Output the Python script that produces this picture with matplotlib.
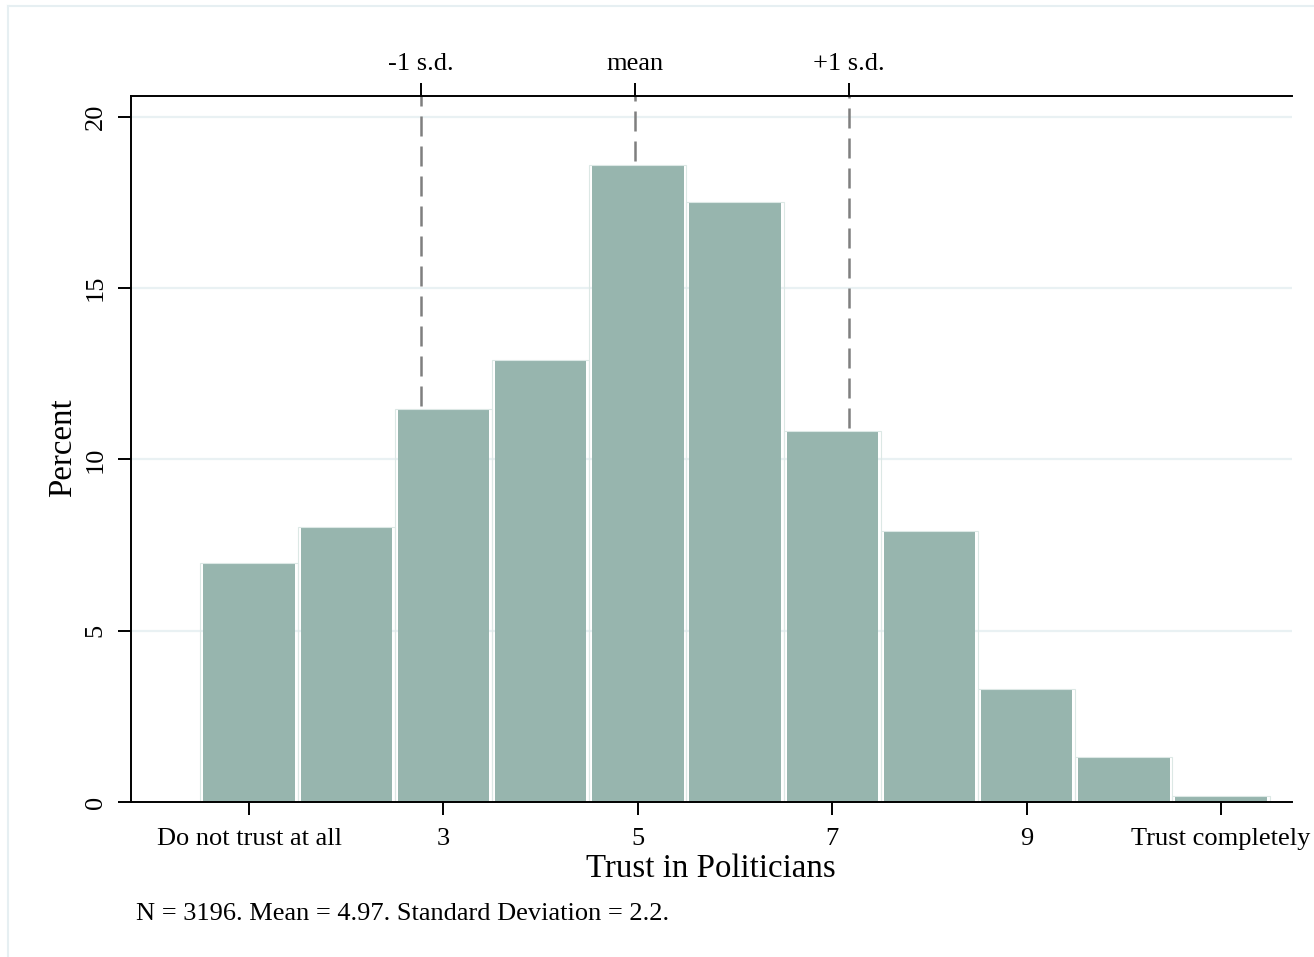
import matplotlib
matplotlib.use("Agg")
import matplotlib.pyplot as plt
import matplotlib.patches as mpatches
import numpy as np

# ---- data ----
categories = [1, 2, 3, 4, 5, 6, 7, 8, 9, 10, 11]
percent = [6.98, 8.03, 11.47, 12.91, 18.60, 17.53, 10.83, 7.91, 3.29, 1.32, 0.18]
x_tick_values = [1, 3, 5, 7, 9, 11]
x_tick_labels = ["Do not trust at all", "3", "5", "7", "9", "Trust completely"]
y_tick_values = [0, 5, 10, 15, 20]
mean_val = 4.97
sd_val = 2.2
n_obs = 3196
ref_labels = ["-1 s.d.", "mean", "+1 s.d."]
x_title = "Trust in Politicians"
y_title = "Percent"
note = "N = 3196. Mean = 4.97. Standard Deviation = 2.2."

plt.rcParams['font.family'] = ['Liberation Serif', 'DejaVu Serif']

W, H = 1314, 957
fig = plt.figure(figsize=(W / 100, H / 100), dpi=100)
fig.patch.set_facecolor("white")

ax = fig.add_axes([131 / W, 1 - 802 / H, (1292 - 131) / W, (802 - 96) / H])
ax.set_xlim(-0.214, 11.73)
ax.set_ylim(0, 20.61)

bar_color = "#97b5ae"
ax.bar(categories, percent, width=0.94, color=bar_color, linewidth=0, zorder=2)
ax.bar(categories, percent, width=1.0, facecolor="none", edgecolor="#dce8e5",
       linewidth=0.8, zorder=2)

# grid
for yv in y_tick_values[1:]:
    ax.axhline(yv, color="#e9f1f3", lw=1.6, zorder=0)

# reference lines
refs = [mean_val - sd_val, mean_val, mean_val + sd_val]
for r in refs:
    idx = int(round(r)) - 1
    top_bar = percent[idx]
    ax.plot([r, r], [top_bar + 0.1, 20.61], color="#7f7f7f", lw=1.8,
            linestyle=(0, (8, 4)), zorder=3, solid_capstyle="butt",
            dash_capstyle="butt")

for s in ["right", "top"]:
    ax.spines[s].set_visible(False)
for s in ["left", "bottom"]:
    ax.spines[s].set_linewidth(1.4)

ax.set_xticks(x_tick_values)
ax.set_xticklabels(x_tick_labels, fontsize=19)
ax.set_yticks(y_tick_values)
ax.set_yticklabels([str(v) for v in y_tick_values], fontsize=19, rotation=90,
                   va="center")
ax.tick_params(axis="both", direction="out", length=9.4, width=1.4, color="black")
ax.tick_params(axis="x", pad=9.5)
ax.tick_params(axis="y", pad=8)

# top axis
ax2 = ax.twiny()
ax2.set_xlim(ax.get_xlim())
ax2.set_xticks(refs)
ax2.set_xticklabels(ref_labels, fontsize=19)
ax2.tick_params(axis="x", direction="out", length=9.4, width=1.4, pad=6)
for s in ["right", "bottom", "left"]:
    ax2.spines[s].set_visible(False)
ax2.spines["top"].set_linewidth(1.4)

# titles
fig.text(711 / W, 1 - 877 / H, x_title, fontsize=23.7, ha="center", va="baseline")
fig.text(62.5 / W, 1 - 448 / H, y_title, fontsize=23.7, ha="center", va="center",
         rotation=90)
fig.text(136 / W, 1 - 919.5 / H, note, fontsize=19, ha="left", va="baseline")

# outer frame (left and top edges only visible)
fig.add_artist(plt.Line2D([8 / W, 8 / W], [0, 1 - 6 / H], transform=fig.transFigure,
                          color="#e6eff2", lw=1.5))
fig.add_artist(plt.Line2D([8 / W, 1], [1 - 6 / H, 1 - 6 / H], transform=fig.transFigure,
                          color="#e6eff2", lw=1.5))

fig.savefig("out.png", dpi=100, facecolor="white")
